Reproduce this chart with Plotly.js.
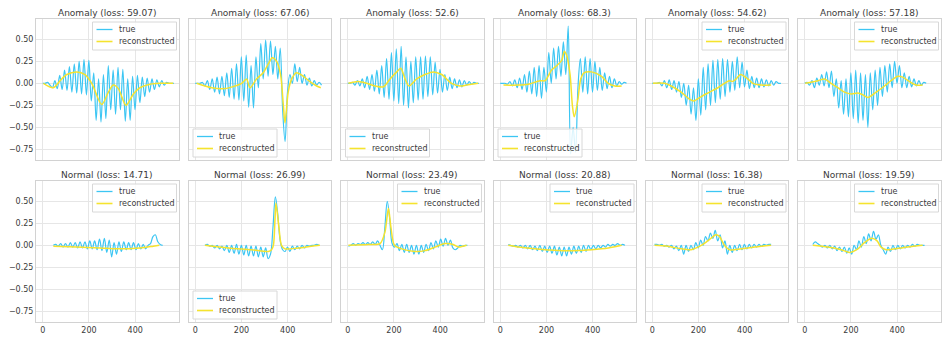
<!DOCTYPE html>
<html><head><meta charset="utf-8">
<script src="https://cdn.plot.ly/plotly-3.0.1.min.js"></script>
<style>html,body{margin:0;padding:0;background:#fff}#chart{width:942px;height:339px}</style>
</head><body><div id="chart"></div>
<script>
// ---- data ----
const STEP = 10.5; // spacing of the sampled peak / trough readings along x
const titles = ["Anomaly (loss: 59.07)","Anomaly (loss: 67.06)","Anomaly (loss: 52.6)","Anomaly (loss: 68.3)","Anomaly (loss: 54.62)","Anomaly (loss: 57.18)",
                "Normal (loss: 14.71)","Normal (loss: 26.99)","Normal (loss: 23.49)","Normal (loss: 20.88)","Normal (loss: 16.38)","Normal (loss: 19.59)"];
const seriesNames = ["true","reconstructed"];
const xTicks = [0,200,400];
const yTicks = [-0.75,-0.5,-0.25,0,0.25,0.5];

const a1X0 = 0;
const a1True = [0,0,0.01,-0.02,-0.05,0.03,-0.06,0.09,-0.07,0.15,-0.08,0.19,-0.1,0.22,-0.11,0.25,-0.12,0.27,-0.13,0.26,-0.2,0.12,-0.42,0.05,-0.44,0.1,-0.4,0.2,-0.3,0.15,-0.35,0.18,-0.3,0.16,-0.43,0.05,-0.42,0.08,-0.3,0.09,-0.22,0.07,-0.15,0.06,-0.1,0.05,-0.07,0.04,-0.04,0.03,-0.02,0.01,0,0,0];
const a1RecX = [3,46,75,104,147,183,212,255,284,305,327,360,392,420,464,507,564];
const a1RecY = [0,-0.05,0.03,0.1,0.13,0.1,0,-0.24,-0.1,-0.02,-0.06,-0.25,-0.12,-0.05,-0.01,0,0];

const a2X0 = 0;
const a2True = [0,0,0,0.01,-0.03,0.03,-0.07,0.05,-0.1,0.07,-0.12,0.08,-0.14,0.12,-0.16,0.17,-0.18,0.22,-0.19,0.3,-0.2,0.32,-0.27,0.2,-0.28,0.3,-0.05,0.45,0.05,0.49,0.08,0.48,0.1,0.42,0.05,0.4,-0.3,-0.66,-0.1,0.1,0,0.22,0.02,0.18,0,0.1,-0.02,0.06,-0.03,0.03,-0.02,0.01,-0.02];
const a2RecX = [6,71,129,172,201,222,237,265,294,316,333,352,369,381,388,402,417,438,467,496,525,543];
const a2RecY = [0,-0.05,-0.06,-0.03,0,0.05,-0.05,0.05,0.12,0.22,0.29,0.25,0.1,-0.25,-0.45,-0.1,0.05,0.12,0.08,0.02,-0.03,-0.05];

const a3X0 = 0;
const a3True = [0,0,0.01,-0.02,0.03,-0.03,0.05,-0.05,0.08,-0.07,0.1,-0.09,0.15,-0.12,0.2,-0.16,0.28,-0.18,0.35,-0.2,0.39,-0.23,0.42,-0.25,0.3,-0.28,0.25,-0.22,0.3,-0.19,0.3,-0.18,0.31,-0.15,0.3,-0.13,0.24,-0.11,0.16,-0.1,0.1,-0.08,0.07,-0.06,0.05,-0.05,0.04,-0.04,0.03,-0.02,0.02,-0.01,0.01,0,0];
const a3RecX = [3,46,82,118,154,183,212,229,248,265,298,334,370,406,449,485,514,564];
const a3RecY = [0,0.02,0,-0.03,-0.04,0.05,0.13,0.17,0.05,-0.03,0.05,0.1,0.13,0.1,0,-0.03,-0.02,0];

const a4X0 = 0;
const a4True = [0,0,0,-0.01,0.02,-0.03,0.04,-0.05,0.06,-0.07,0.1,-0.1,0.14,-0.12,0.18,-0.15,0.2,-0.17,0.18,-0.1,0.35,0,0.4,0.05,0.42,0.08,0.47,0.1,0.65,-0.8,-0.5,-0.78,-0.05,0.28,-0.1,0.3,-0.12,0.28,-0.1,0.25,-0.08,0.18,-0.08,0.12,-0.06,0.08,-0.05,0.05,-0.03,0.02,-0.01,0.01,0];
const a4RecX = [14,78,122,172,194,222,244,266,277,287,302,312,320,335,348,362,395,438,467,496,525];
const a4RecY = [-0.02,-0.02,-0.01,0.03,0.03,0.15,0.2,0.26,0.36,0.32,0.1,-0.25,-0.38,-0.2,0.05,0.12,0.13,0.08,0,-0.03,-0.03];

const a5X0 = 0;
const a5True = [0,0,0,0.01,-0.03,0.03,-0.05,0.04,-0.07,0.03,-0.1,0.02,-0.16,0,-0.25,-0.02,-0.35,-0.05,-0.42,0.05,-0.36,0.18,-0.3,0.22,-0.25,0.26,-0.22,0.27,-0.18,0.28,-0.15,0.27,-0.1,0.25,-0.08,0.3,-0.05,0.24,-0.04,0.15,-0.06,0.08,-0.05,0.06,-0.05,0.05,-0.04,0.04,-0.03,0.03,-0.02,0.02,0,0];
const a5RecX = [3,53,82,125,161,180,212,248,284,312,334,348,363,382,413,435,471,514];
const a5RecY = [0,0,-0.03,-0.1,-0.18,-0.2,-0.15,-0.1,-0.05,0,0.03,0.02,0.05,0.1,0.05,0,-0.02,-0.02];

const a6X0 = 0;
const a6True = [0,0.01,-0.02,0.03,-0.05,0.06,-0.02,0.1,-0.03,0.13,-0.05,0.14,-0.15,0.05,-0.28,0.03,-0.35,0.05,-0.38,0.12,-0.4,0.15,-0.45,0.12,-0.42,0.1,-0.5,0.12,-0.3,0.15,-0.25,0.18,-0.15,0.2,-0.1,0.22,-0.05,0.25,0,0.2,-0.05,0.12,-0.05,0.08,-0.04,0.05,-0.03,0.03,-0.02,0.01,0];
const a6RecX = [2,57,86,114,143,172,201,230,251,273,309,345,373,403,424,453,481,510];
const a6RecY = [0,0.03,0.05,0,-0.05,-0.1,-0.12,-0.11,-0.13,-0.16,-0.1,-0.03,0.03,0.08,0.07,0.02,-0.02,-0.02];

const n1X0 = 46;
const n1True = [0,0.01,-0.01,0.02,-0.02,0.02,-0.02,0.03,-0.02,0.03,-0.03,0.04,-0.03,0.04,-0.04,0.05,-0.04,0.05,-0.05,0.07,-0.06,0.08,-0.08,0.06,-0.13,0.03,-0.1,0.04,-0.07,0.04,-0.05,0.03,-0.05,0.03,-0.05,0.02,-0.04,0.01,-0.04,0,0.02,0.1,0.12,0.04,0.01,0];
const n1RecX = [46,147,248,320,420,478,504];
const n1RecY = [-0.01,-0.02,-0.03,-0.04,-0.03,-0.01,0];

const n2X0 = 42;
const n2True = [0,0.01,-0.01,0,-0.03,0,-0.04,-0.01,-0.06,0,-0.08,0,-0.09,0.01,-0.1,0,-0.11,0,-0.12,-0.01,-0.12,-0.01,-0.13,-0.02,-0.13,-0.03,-0.15,-0.1,0.2,0.55,0.35,0.05,-0.05,-0.07,-0.02,-0.07,-0.01,-0.05,-0.01,-0.04,0,-0.03,0,-0.01,0,0,0.01,0];
const n2RecX = [42,143,244,316,330,338,345,349,362,373,388,445,503,539];
const n2RecY = [0,-0.03,-0.05,-0.07,-0.05,0,0.3,0.48,0.2,0,-0.04,-0.03,-0.01,0];

const n3X0 = 3;
const n3True = [-0.01,0,0.02,0,0.02,0.01,0.03,0.01,0.03,0.01,0.04,0.01,0.05,0,-0.05,0.2,0.5,0.3,0.02,-0.02,0.02,-0.06,0.01,-0.08,0.01,-0.08,0,-0.1,0,-0.1,0,-0.08,0.01,-0.06,0.03,-0.04,0.05,-0.02,0.07,-0.01,0.08,0,0.06,-0.03,-0.05,-0.03,0,-0.01,0,0];
const n3RecX = [3,89,140,161,176,187,202,233,291,334,377,420,456,478,514];
const n3RecY = [0,0.01,0.02,0.15,0.42,0.2,0,-0.04,-0.07,-0.06,-0.02,0.02,0.01,-0.02,0];

const n4X0 = 35;
const n4True = [0.01,0,-0.01,0,-0.02,0,-0.03,0,-0.04,0,-0.05,-0.01,-0.06,0,-0.07,-0.01,-0.08,-0.01,-0.09,-0.01,-0.11,-0.02,-0.12,-0.02,-0.12,-0.02,-0.1,-0.01,-0.09,-0.01,-0.08,0,-0.07,0,-0.05,0,-0.04,0,-0.03,0,-0.02,0.01,-0.01,0.01,0,0.02,0,0.01,0];
const n4RecX = [35,78,150,251,338,395,467,525];
const n4RecY = [0,-0.02,-0.04,-0.06,-0.06,-0.05,-0.03,0];

const n5X0 = 10;
const n5True = [0.01,0.01,0,0.01,-0.01,0,-0.02,0,-0.04,-0.01,-0.06,0,-0.1,0,-0.07,0,-0.05,0.03,-0.03,0.06,0,0.1,0.05,0.14,0.08,0.17,0.05,0.12,-0.03,0.05,-0.1,0,-0.08,0,-0.06,0.01,-0.05,0.01,-0.04,0.01,-0.03,0.01,-0.02,0.01,-0.01,0.01,0,0.01,0.01];
const n5RecX = [10,68,125,168,212,240,276,291,312,334,356,413,471,514];
const n5RecY = [0,-0.01,-0.04,-0.05,0,0.05,0.12,0.1,0,-0.05,-0.05,-0.03,-0.01,0];

const n6X0 = 35;
const n6True = [0.01,0.04,0.02,0,-0.02,0,-0.03,0,-0.04,-0.01,-0.06,-0.02,-0.07,-0.02,-0.09,-0.03,-0.1,0,-0.05,0.05,-0.02,0.1,0.02,0.13,0.05,0.16,0.07,0.12,0,-0.05,-0.1,-0.02,-0.07,0,-0.05,0,-0.04,0,-0.03,0,-0.02,0.01,-0.01,0.01,0,0,0];
const n6RecX = [35,100,158,194,230,258,290,313,330,352,388,445,510];
const n6RecY = [0,-0.02,-0.05,-0.08,-0.04,0.03,0.08,0.05,-0.02,-0.05,-0.04,-0.02,0];

// ---- assembly ----
const panels = [
  [a1X0,a1True,a1RecX,a1RecY],[a2X0,a2True,a2RecX,a2RecY],[a3X0,a3True,a3RecX,a3RecY],
  [a4X0,a4True,a4RecX,a4RecY],[a5X0,a5True,a5RecX,a5RecY],[a6X0,a6True,a6RecX,a6RecY],
  [n1X0,n1True,n1RecX,n1RecY],[n2X0,n2True,n2RecX,n2RecY],[n3X0,n3True,n3RecX,n3RecY],
  [n4X0,n4True,n4RecX,n4RecY],[n5X0,n5True,n5RecX,n5RecY],[n6X0,n6True,n6RecX,n6RecY]
];
const legendCorner = ['ur','ll','ll','ll','ur','ur','ur','ll','ur','ur','ur','ur'];

const W = 942, H = 339;
const colLeft = [36,188.5,341,493.5,645.5,798], colW = 142.5;
const rowTop = [19,181], rowH = 141;
const BLUE = '#3cc6f3', YEL = '#f5e32e', GRID = '#e6e6e6', SPINE = '#d2d2d2', TXT = '#3a3a3a';
const FONT = 'DejaVu Sans, sans-serif';
const colors = [BLUE, YEL];

const px = v => v / W, py = v => 1 - v / H;

const traces = [];
const layout = {
  width: W, height: H, margin: {l:0,r:0,t:0,b:0},
  paper_bgcolor: '#fff', plot_bgcolor: '#fff',
  font: {family: FONT, size: 8, color: TXT},
  showlegend: false, annotations: [], shapes: []
};

panels.forEach((p, i) => {
  const [x0, tv, rx, ry] = p;
  const r = Math.floor(i/6), c = i % 6, n = i + 1;
  const sfx = n === 1 ? '' : String(n);
  const xa = 'x' + sfx, ya = 'y' + sfx;
  const xs = tv.map((_, k) => x0 + k * STEP);
  traces.push({x: xs, y: tv, type: 'scatter', mode: 'lines', name: seriesNames[0], xaxis: xa, yaxis: ya,
    line: {color: BLUE, width: 1.2, shape: 'spline', smoothing: 1}, hoverinfo: 'skip'});
  traces.push({x: rx, y: ry, type: 'scatter', mode: 'lines', name: seriesNames[1], xaxis: xa, yaxis: ya,
    line: {color: YEL, width: 1.5, shape: 'spline', smoothing: 0.8}, hoverinfo: 'skip'});
  const L = colLeft[c], R = colLeft[c] + colW, T = rowTop[r], B = rowTop[r] + rowH;
  layout['xaxis' + sfx] = {
    domain: [px(L), px(R)], range: [-29, 587], anchor: ya, tickvals: xTicks,
    showticklabels: r === 1, ticks: '', showgrid: true, gridcolor: GRID, gridwidth: 1,
    zeroline: false, showline: true, mirror: true, linecolor: SPINE, linewidth: 1,
    tickfont: {family: FONT, size: 8, color: TXT}, fixedrange: true
  };
  layout['yaxis' + sfx] = {
    domain: [py(B), py(T)], range: [-0.87, 0.73], anchor: xa, tickvals: yTicks, tickformat: '.2f',
    showticklabels: c === 0, ticks: '', showgrid: true, gridcolor: GRID, gridwidth: 1,
    zeroline: false, showline: true, mirror: true, linecolor: SPINE, linewidth: 1,
    tickfont: {family: FONT, size: 8, color: TXT}, fixedrange: true
  };
  layout.annotations.push({text: titles[i], xref: 'paper', yref: 'paper', x: px((L + R) / 2), y: py(T),
    xanchor: 'center', yanchor: 'bottom', yshift: -1, showarrow: false, font: {family: FONT, size: 9, color: TXT}});

  // legend box (matplotlib style: compact, handle 16px)
  const bw = 84, bh = 28;
  const ur = legendCorner[i] === 'ur';
  const bl = ur ? R - 2 - bw : L + 4.5;
  const bt = ur ? T + 3 : B - 3 - bh;
  layout.shapes.push({type: 'rect', xref: 'paper', yref: 'paper', layer: 'above',
    x0: px(bl), x1: px(bl + bw), y0: py(bt + bh), y1: py(bt),
    fillcolor: 'rgba(255,255,255,0.82)', line: {color: '#d8d8d8', width: 1}});
  seriesNames.forEach((nm, j) => {
    const yy = bt + 7.5 + j * 12;
    layout.shapes.push({type: 'line', xref: 'paper', yref: 'paper', layer: 'above',
      x0: px(bl + 4), x1: px(bl + 20), y0: py(yy), y1: py(yy),
      line: {color: colors[j], width: j === 0 ? 1.3 : 1.6}});
    layout.annotations.push({text: nm, xref: 'paper', yref: 'paper', x: px(bl + 25), y: py(yy),
      xanchor: 'left', yanchor: 'middle', showarrow: false, borderpad: 0,
      font: {family: FONT, size: 8, color: TXT}});
  });
});

Plotly.newPlot('chart', traces, layout, {staticPlot: true, displayModeBar: false});
</script>
</body></html>
